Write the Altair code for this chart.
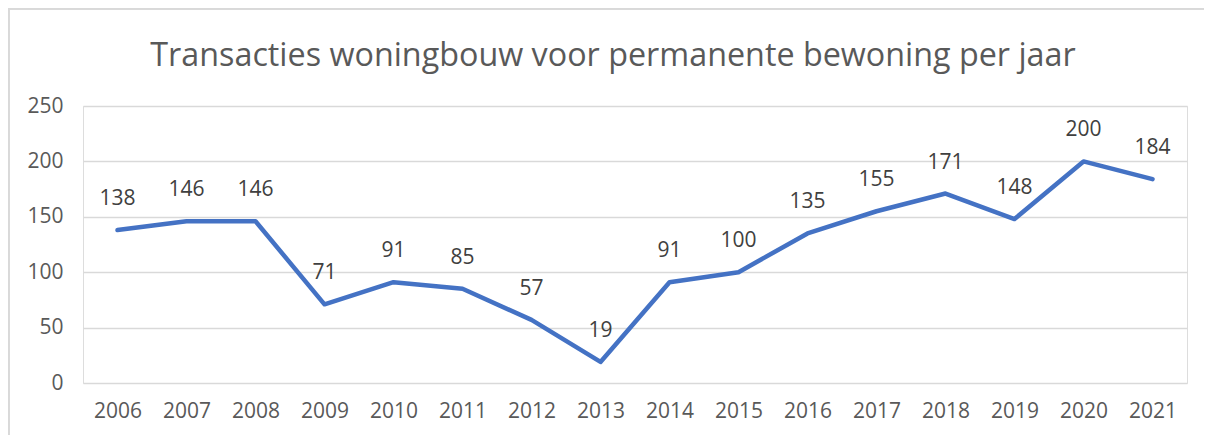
import altair as alt
import pandas as pd

years = ["2006", "2007", "2008", "2009", "2010", "2011", "2012", "2013",
         "2014", "2015", "2016", "2017", "2018", "2019", "2020", "2021"]
values = [138, 146, 146, 71, 91, 85, 57, 19, 91, 100, 135, 155, 171, 148, 200, 184]
y_ticks = [0, 50, 100, 150, 200, 250]
title_text = ["Transacties woningbouw voor permanente bewoning per jaar"]

df = pd.DataFrame({"jaar": years, "transacties": values})
df_title = pd.DataFrame({"titel": title_text})

FONT = "Open Sans"
W, H = 1104, 277
PL, PT = 75, 98

x = alt.X("jaar:O", title=None, sort=years,
          scale=alt.Scale(type="point", padding=0.5),
          axis=alt.Axis(labelAngle=0, labelFontSize=21, labelColor="#595959",
                        labelFont=FONT, labelPadding=17, ticks=False, domain=False,
                        grid=False))
y = alt.Y("transacties:Q", title=None,
          scale=alt.Scale(domain=[0, 250], nice=False),
          axis=alt.Axis(values=y_ticks, labelFontSize=21, labelColor="#595959",
                        labelFont=FONT, labelPadding=20, ticks=False, domain=False,
                        gridColor="#d9d9d9", gridWidth=1.5))

line = alt.Chart(df).mark_line(color="#4472C4", strokeWidth=4.5,
                               strokeCap="round", strokeJoin="round").encode(x=x, y=y)

labels = alt.Chart(df).mark_text(font=FONT, fontSize=21, color="#404040",
                                 baseline="middle", dy=-31).encode(
    x=alt.X("jaar:O", sort=years), y="transacties:Q", text="transacties:Q")

border = alt.Chart(df).mark_rect(fill=None, stroke="#d9d9d9", strokeWidth=1.5,
                                 clip=False).encode(
    x=alt.value(-PL + 0.75), x2=alt.value(W + 40),
    y=alt.value(-PT + 0.75), y2=alt.value(H + 80))

title = alt.Chart(df_title).mark_text(font=FONT, fontSize=32.3, color="#595959",
                                      align="center", baseline="alphabetic",
                                      clip=False).encode(
    x=alt.value(W / 2 - 22), y=alt.value(-40), text="titel:N")

chart = alt.layer(border, line, labels, title).properties(
    width=W, height=H,
    autosize=alt.AutoSizeParams(type="none"),
    padding={"left": PL, "top": PT, "right": 17, "bottom": 52},
).configure_view(stroke=None).configure(background="white")

chart.save("out.html", embed_options={"renderer": "svg", "actions": False})
